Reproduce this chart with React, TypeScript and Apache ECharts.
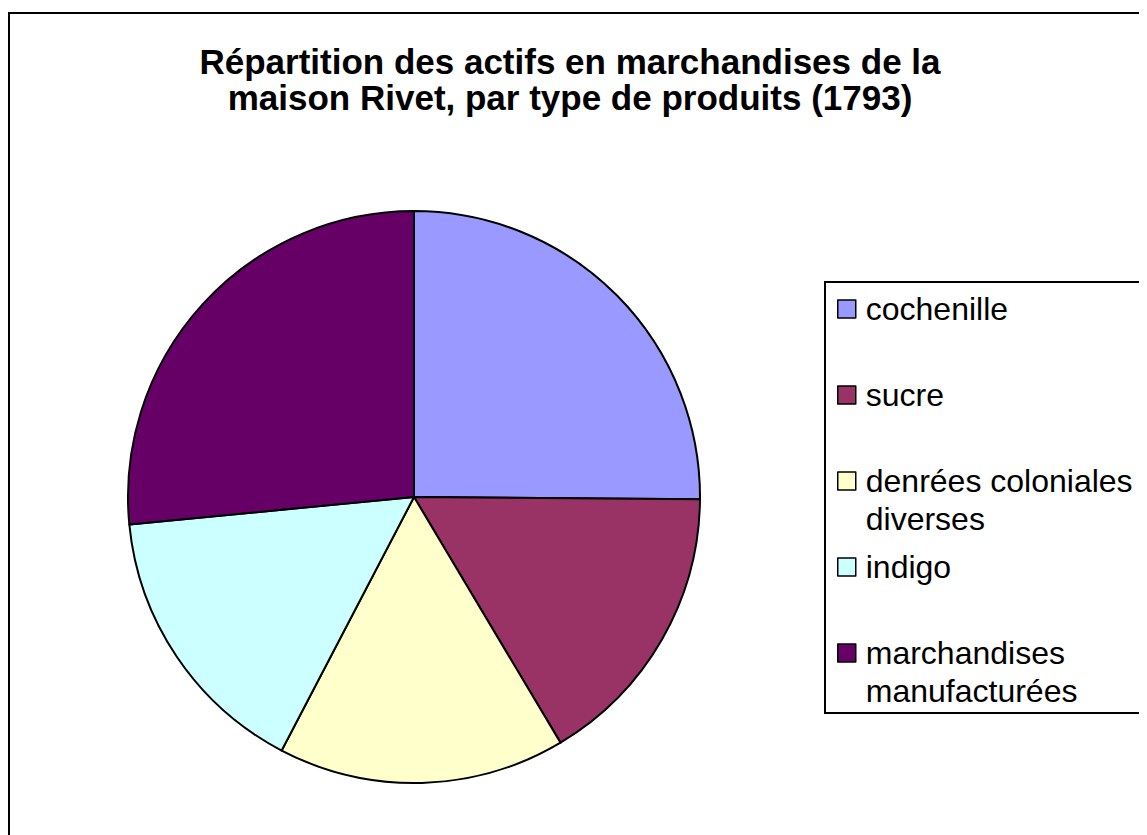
import React, { useEffect, useRef } from 'react';
import * as echarts from 'echarts';

const categories = [
  'cochenille',
  'sucre',
  'denrées coloniales diverses',
  'indigo',
  'marchandises manufacturées',
];
const legendLabels = [
  'cochenille',
  'sucre',
  'denrées coloniales\ndiverses',
  'indigo',
  'marchandises\nmanufacturées',
];
const values = [25.1, 16.3, 16.2, 15.8, 26.5];
const colors = ['#9999FF', '#993366', '#FFFFCC', '#CCFFFF', '#660066'];
const titleText = 'Répartition des actifs en marchandises de la\nmaison Rivet, par type de produits (1793)';

const FONT = '"Liberation Sans", Arial, sans-serif';

export default function App() {
  const ref = useRef<HTMLDivElement>(null);
  useEffect(() => {
    document.documentElement.style.overflow = 'hidden';
    document.body.style.overflow = 'hidden';
    const chart = echarts.init(ref.current!, undefined, { renderer: 'svg' });

    const legendLineH = 38;
    const iconCenters = [301, 387, 473, 559, 645];
    const legends = categories.map((name, i) => {
      const twoLines = legendLabels[i].includes('\n');
      return {
        orient: 'vertical',
        left: 829,
        top: twoLines ? iconCenters[i] - 57 : iconCenters[i] - 19,
        padding: 0,
        itemWidth: 18,
        itemHeight: 18,
        selectedMode: false,
        data: [{ name, icon: 'rect' }],
        formatter: (n: string) => {
          const label = legendLabels[categories.indexOf(n)];
          return label.includes('\n') ? '\n' + label : label;
        },
        itemStyle: { borderColor: '#000', borderWidth: 1.5 },
        textStyle: {
          fontFamily: FONT,
          fontSize: 32,
          lineHeight: legendLineH,
          color: '#000',
          padding: [0, 0, 0, 5],
        },
      };
    });

    chart.setOption({
      animation: false,
      backgroundColor: '#fff',
      title: {
        text: titleText,
        left: 562,
        textAlign: 'center',
        top: 35,
        padding: 0,
        textStyle: {
          fontFamily: FONT,
          fontSize: 35,
          fontWeight: 'bold',
          lineHeight: 36,
          color: '#000',
        },
      },
      legend: legends,
      graphic: [
        {
          type: 'rect',
          shape: { x: 1, y: 5, width: 1300, height: 1000 },
          style: { fill: 'none', stroke: '#000', lineWidth: 2 },
          silent: true,
          z: 100,
        },
        {
          type: 'rect',
          shape: { x: 817, y: 274, width: 500, height: 431 },
          style: { fill: 'none', stroke: '#000', lineWidth: 2 },
          silent: true,
          z: 100,
        },
      ],
      series: [
        {
          type: 'pie',
          center: [406, 489],
          radius: 286,
          startAngle: 90,
          clockwise: true,
          silent: true,
          label: { show: false },
          labelLine: { show: false },
          emphasis: { disabled: true },
          itemStyle: { borderColor: '#000', borderWidth: 2 },
          data: categories.map((name, i) => ({
            name,
            value: values[i],
            itemStyle: { color: colors[i] },
          })),
        },
      ],
    });
    return () => chart.dispose();
  }, []);
  return <div ref={ref} style={{ width: 1139, height: 827 }} />;
}
